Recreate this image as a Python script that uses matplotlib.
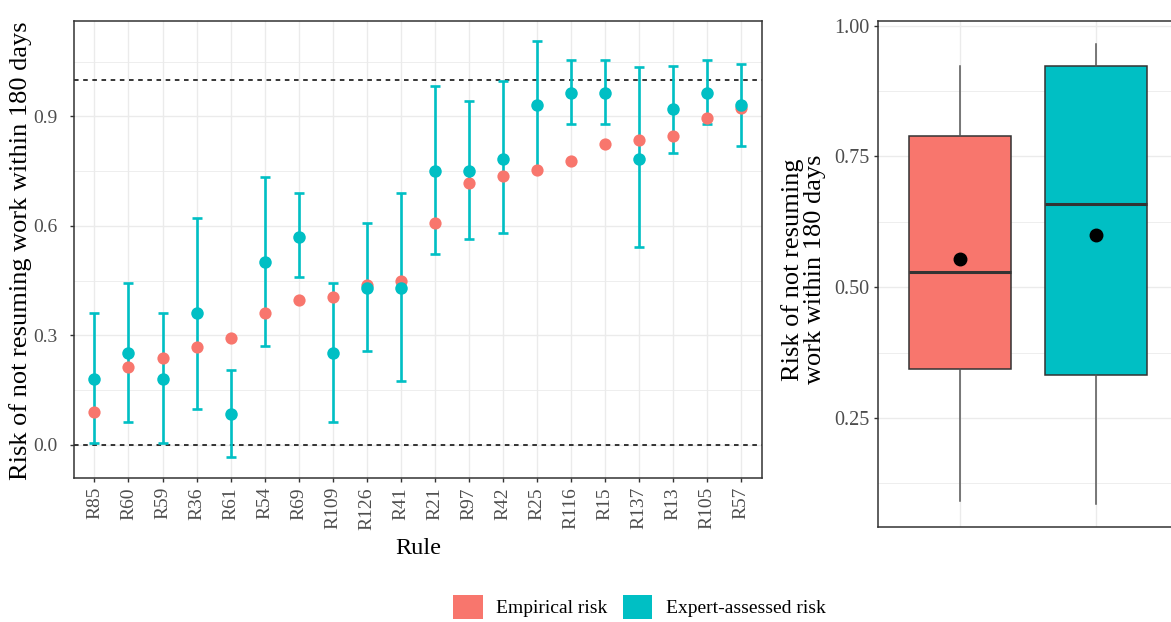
import numpy as np
import matplotlib
matplotlib.use("Agg")
import matplotlib.pyplot as plt
from matplotlib.patches import Patch
from matplotlib.ticker import MultipleLocator

plt.rcParams['font.family'] = ['Liberation Serif', 'DejaVu Serif']

# rules sorted by empirical risk
rules = ['R85', 'R60', 'R59', 'R36', 'R61', 'R54', 'R69', 'R109', 'R126', 'R41',
         'R21', 'R97', 'R42', 'R25', 'R116', 'R15', 'R137', 'R13', 'R105', 'R57']
empirical = [0.091, 0.214, 0.237, 0.267, 0.294, 0.360, 0.397, 0.406, 0.438, 0.449,
             0.608, 0.716, 0.736, 0.754, 0.777, 0.823, 0.834, 0.847, 0.895, 0.923]
expert = [0.180, 0.251, 0.180, 0.360, 0.085, 0.502, 0.570, 0.251, 0.429, 0.429,
          0.750, 0.750, 0.784, 0.930, 0.965, 0.965, 0.784, 0.920, 0.965, 0.930]
expert_lo = [0.005, 0.062, 0.005, 0.097, -0.034, 0.270, 0.461, 0.062, 0.258, 0.174,
             0.522, 0.565, 0.580, 0.755, 0.879, 0.879, 0.542, 0.799, 0.880, 0.818]
expert_hi = [0.360, 0.443, 0.360, 0.622, 0.206, 0.733, 0.689, 0.443, 0.607, 0.689,
             0.982, 0.941, 0.998, 1.105, 1.055, 1.055, 1.036, 1.039, 1.055, 1.044]
series_names = ['Empirical risk', 'Expert-assessed risk']
ref_lines = [0.0, 1.0]

RED = '#F8766D'
TEAL = '#00BFC4'
GRID = '#EBEBEB'
DARK = '#333333'
TICKTXT = '#4D4D4D'

fig = plt.figure(figsize=(11.71, 6.22), dpi=100)
ax = fig.add_axes([0.0632, 0.2315, 0.5873, 0.7352])
ax2 = fig.add_axes([0.7500, 0.1523, 0.2557, 0.8139])


def style_axes(a):
    a.set_facecolor('white')
    a.grid(True, which='both', color=GRID, linewidth=1.0)
    a.grid(True, which='minor', color=GRID, linewidth=0.6)
    a.set_axisbelow(True)
    for s in a.spines.values():
        s.set_color(DARK)
        s.set_linewidth(1.1)
    a.tick_params(colors=DARK, labelcolor=TICKTXT, length=3, width=1.0)


# ---- left panel: per-rule risks
x = np.arange(len(rules))
style_axes(ax)
for r in ref_lines:
    ax.axhline(r, color='black', linestyle=(0, (3, 3)), linewidth=1.1, zorder=2)
err = [np.array(expert) - np.array(expert_lo), np.array(expert_hi) - np.array(expert)]
ax.errorbar(x, expert, yerr=err, fmt='none', ecolor=TEAL, elinewidth=1.9,
            capsize=3.6, capthick=1.9, zorder=3)
ax.plot(x, empirical, 'o', color=RED, markersize=8.8, markeredgewidth=0, zorder=4)
ax.plot(x, expert, 'o', color=TEAL, markersize=9.0, markeredgewidth=0, zorder=5)

lo, hi = min(expert_lo), max(expert_hi)
pad = 0.05 * (hi - lo)
ax.set_ylim(lo - pad, hi + pad)
ax.set_xlim(-0.6, len(rules) - 0.4)
ax.set_xticks(x)
ax.set_xticklabels(rules, rotation=90, fontsize=14)
ax.yaxis.set_major_locator(MultipleLocator(0.3))
ax.yaxis.set_minor_locator(MultipleLocator(0.15))
ax.tick_params(axis='y', which='minor', length=0)
ax.set_yticks([0.0, 0.3, 0.6, 0.9])
ax.set_yticklabels(['0.0', '0.3', '0.6', '0.9'], fontsize=14)
ax.tick_params(axis='y', which='major', pad=9)
ax.grid(True, axis='x', which='major', color=GRID, linewidth=1.0)

fig.text(0.0171, 0.597, 'Risk of not resuming work within 180 days', rotation=90,
         ha='center', va='center', fontsize=19)
fig.text(418 / 1171, 1 - 548 / 622, 'Rule', ha='center', va='center', fontsize=17.5)

# ---- right panel: distribution of both risks
style_axes(ax2)
bp = ax2.boxplot([empirical, expert], positions=[1, 2], widths=0.75, patch_artist=True,
                 showcaps=False, showfliers=False, showmeans=True, whis=1.5,
                 boxprops=dict(edgecolor=DARK, linewidth=1.1),
                 medianprops=dict(color=DARK, linewidth=2.2),
                 whiskerprops=dict(color='#555555', linewidth=1.1),
                 meanprops=dict(marker='o', markerfacecolor='black',
                                markeredgecolor='black', markersize=9),
                 zorder=3)
for patch, c in zip(bp['boxes'], [RED, TEAL]):
    patch.set_facecolor(c)

allv = empirical + expert
lo2, hi2 = min(allv), max(allv)
pad2 = 0.05 * (hi2 - lo2)
ax2.set_ylim(lo2 - pad2, hi2 + pad2)
ax2.set_xlim(0.4, 2.6)
ax2.set_xticks([1, 2])
ax2.set_xticklabels(['', ''])
ax2.tick_params(axis='x', length=0)
ax2.yaxis.set_major_locator(MultipleLocator(0.25))
ax2.yaxis.set_minor_locator(MultipleLocator(0.125))
ax2.tick_params(axis='y', which='minor', length=0)
ax2.set_yticks([0.25, 0.50, 0.75, 1.00])
ax2.set_yticklabels(['0.25', '0.50', '0.75', '1.00'], fontsize=14.5)

fig.text(803.5 / 1171, 0.567, 'Risk of not resuming\nwork within 180 days', rotation=90,
         ha='center', va='center', fontsize=19, linespacing=1.0, multialignment='center')

# ---- legend
handles = [Patch(facecolor=RED, edgecolor='none'), Patch(facecolor=TEAL, edgecolor='none')]
fig.legend(handles, series_names, loc='center', bbox_to_anchor=(0.5462, 0.0241),
           ncol=2, frameon=False, fontsize=14, handlelength=1.5, handleheight=1.5,
           handletextpad=0.7, columnspacing=0.8, borderpad=0.2)

fig.savefig('out.png', dpi=100)
